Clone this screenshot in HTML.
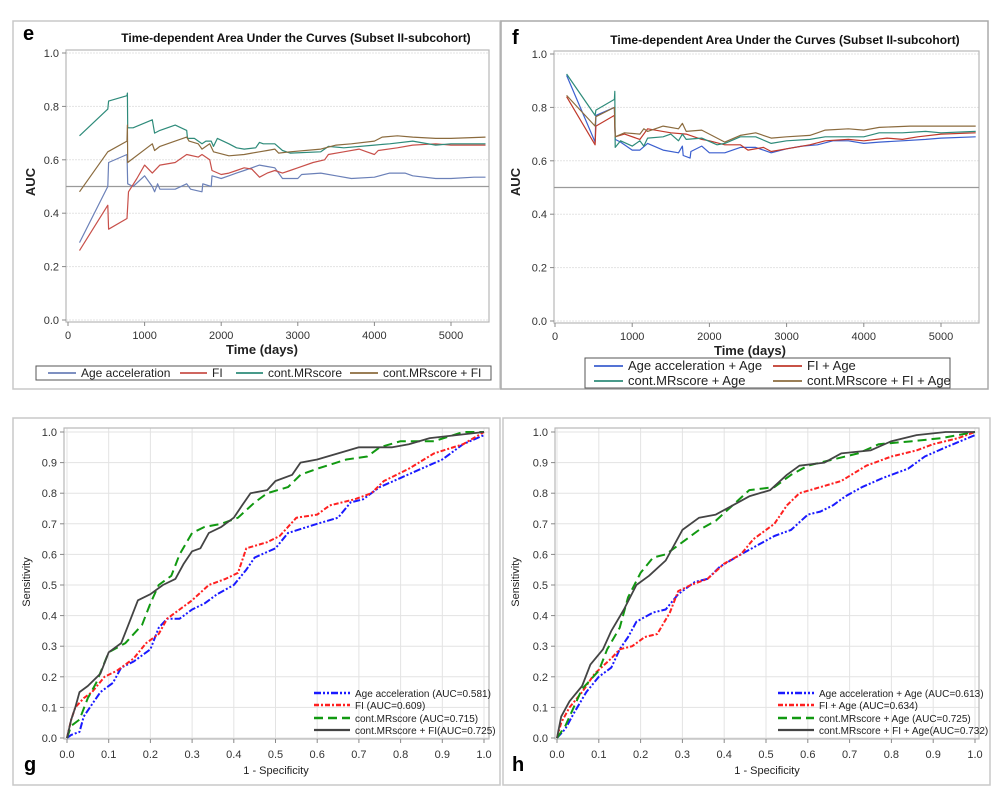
<!DOCTYPE html>
<html><head><meta charset="utf-8">
<style>
html,body{margin:0;padding:0;background:#fff;}
svg{display:block;font-family:"Liberation Sans",Arial,sans-serif;}
</style></head>
<body>
<svg id="fig" width="1000" height="810" viewBox="0 0 1000 810" xmlns="http://www.w3.org/2000/svg"></svg>
<script>
// ---------- Panel e data (days, AUC) ----------
const eAgeAcc=[[150,0.29],[520,0.50],[530,0.59],[770,0.62],[780,0.51],[850,0.50],[1000,0.54],[1100,0.50],[1130,0.48],[1170,0.51],[1200,0.49],[1400,0.49],[1550,0.51],[1600,0.49],[1750,0.48],[1760,0.51],[1870,0.50],[1880,0.54],[2000,0.53],[2100,0.54],[2200,0.55],[2300,0.56],[2400,0.57],[2500,0.58],[2600,0.575],[2700,0.57],[2800,0.53],[2900,0.53],[3000,0.53],[3050,0.545],[3300,0.55],[3500,0.54],[3700,0.53],[4000,0.535],[4200,0.55],[4400,0.55],[4500,0.54],[4800,0.53],[5000,0.53],[5300,0.535],[5450,0.535]];
const eFI=[[150,0.26],[520,0.43],[530,0.34],[770,0.38],[790,0.48],[900,0.53],[1000,0.58],[1100,0.55],[1200,0.58],[1400,0.59],[1550,0.62],[1700,0.61],[1750,0.62],[1850,0.60],[1880,0.56],[2000,0.545],[2100,0.55],[2200,0.56],[2300,0.57],[2400,0.565],[2500,0.535],[2600,0.55],[2700,0.56],[2800,0.55],[2900,0.56],[3000,0.57],[3200,0.59],[3350,0.60],[3400,0.62],[3600,0.63],[3800,0.64],[3900,0.63],[4000,0.62],[4050,0.635],[4300,0.645],[4500,0.655],[4800,0.66],[5000,0.655],[5450,0.655]];
const eMR=[[150,0.69],[520,0.79],[530,0.82],[770,0.84],[775,0.85],[780,0.72],[850,0.72],[1100,0.75],[1130,0.70],[1200,0.71],[1400,0.73],[1550,0.71],[1560,0.68],[1650,0.68],[1750,0.66],[1800,0.67],[1870,0.67],[1900,0.65],[1950,0.68],[2100,0.66],[2200,0.645],[2300,0.64],[2450,0.645],[2500,0.665],[2550,0.66],[2700,0.66],[2800,0.635],[2900,0.625],[3300,0.63],[3400,0.65],[3600,0.645],[4000,0.655],[4200,0.66],[4500,0.67],[4800,0.655],[5000,0.66],[5450,0.66]];
const eMRFI=[[150,0.48],[520,0.63],[770,0.67],[775,0.73],[780,0.59],[1100,0.66],[1130,0.635],[1200,0.65],[1400,0.67],[1550,0.685],[1580,0.67],[1700,0.66],[1750,0.64],[1850,0.66],[1900,0.63],[2100,0.615],[2300,0.62],[2400,0.625],[2500,0.63],[2600,0.635],[2700,0.64],[2750,0.625],[2900,0.63],[3300,0.64],[3500,0.655],[3700,0.66],[4000,0.67],[4100,0.685],[4300,0.69],[4500,0.685],[4800,0.68],[5000,0.68],[5450,0.685]];
// ---------- Panel f data ----------
const fAgeAcc=[[150,0.92],[520,0.67],[530,0.77],[770,0.80],[780,0.68],[850,0.67],[1000,0.64],[1100,0.64],[1200,0.665],[1400,0.64],[1600,0.63],[1650,0.655],[1660,0.62],[1750,0.61],[1760,0.635],[1900,0.655],[2000,0.63],[2200,0.63],[2400,0.65],[2600,0.65],[2700,0.64],[2800,0.63],[3000,0.645],[3200,0.655],[3400,0.66],[3600,0.675],[3800,0.675],[4000,0.665],[4200,0.67],[4500,0.675],[4800,0.68],[5000,0.685],[5450,0.69]];
const fFI=[[150,0.84],[520,0.66],[530,0.73],[770,0.77],[780,0.69],[900,0.70],[1100,0.68],[1200,0.72],[1500,0.705],[1700,0.70],[1900,0.68],[2000,0.675],[2200,0.66],[2400,0.66],[2500,0.64],[2700,0.65],[2800,0.635],[3000,0.645],[3300,0.66],[3500,0.675],[3800,0.68],[4000,0.675],[4300,0.685],[4500,0.68],[4700,0.69],[5000,0.70],[5450,0.705]];
const fMR=[[150,0.925],[520,0.77],[530,0.79],[770,0.83],[775,0.86],[780,0.65],[850,0.675],[1000,0.655],[1100,0.675],[1150,0.655],[1200,0.685],[1400,0.69],[1500,0.70],[1600,0.675],[1650,0.70],[1700,0.68],[1900,0.685],[2100,0.66],[2200,0.665],[2400,0.69],[2600,0.69],[2800,0.665],[3000,0.675],[3300,0.68],[3500,0.69],[3700,0.69],[4000,0.69],[4200,0.705],[4500,0.705],[4800,0.71],[5000,0.705],[5450,0.71]];
const fMRFI=[[150,0.845],[520,0.73],[530,0.765],[770,0.80],[780,0.69],[900,0.705],[1100,0.70],[1150,0.72],[1200,0.71],[1400,0.73],[1600,0.72],[1650,0.74],[1700,0.71],[1900,0.715],[2000,0.70],[2200,0.67],[2400,0.695],[2600,0.705],[2800,0.685],[3000,0.69],[3300,0.695],[3400,0.705],[3500,0.715],[3800,0.72],[4000,0.715],[4200,0.725],[4600,0.73],[4800,0.73],[5000,0.73],[5450,0.73]];
// ---------- Panel g ROC data (1-spec, sens) ----------
const gAgeAcc=[[0,0],[0.01,0.01],[0.03,0.02],[0.04,0.07],[0.06,0.11],[0.08,0.15],[0.11,0.18],[0.13,0.23],[0.16,0.25],[0.2,0.29],[0.22,0.36],[0.24,0.39],[0.27,0.39],[0.3,0.42],[0.33,0.44],[0.36,0.47],[0.4,0.5],[0.43,0.55],[0.45,0.59],[0.5,0.62],[0.53,0.67],[0.6,0.70],[0.65,0.72],[0.68,0.77],[0.71,0.78],[0.75,0.82],[0.8,0.85],[0.85,0.88],[0.9,0.91],[0.95,0.96],[1,0.99]];
const gFI=[[0,0],[0.01,0.06],[0.02,0.1],[0.04,0.13],[0.06,0.15],[0.09,0.2],[0.12,0.22],[0.16,0.26],[0.19,0.31],[0.22,0.34],[0.24,0.39],[0.27,0.42],[0.3,0.45],[0.34,0.5],[0.38,0.52],[0.41,0.54],[0.43,0.62],[0.48,0.64],[0.51,0.66],[0.55,0.72],[0.6,0.73],[0.63,0.76],[0.69,0.78],[0.73,0.8],[0.76,0.84],[0.82,0.88],[0.88,0.93],[0.95,0.96],[1,1]];
const gMR=[[0,0],[0.01,0.04],[0.03,0.06],[0.05,0.13],[0.07,0.18],[0.1,0.28],[0.14,0.31],[0.18,0.37],[0.2,0.44],[0.22,0.5],[0.25,0.53],[0.27,0.6],[0.3,0.67],[0.33,0.69],[0.37,0.7],[0.41,0.72],[0.45,0.77],[0.48,0.8],[0.53,0.82],[0.56,0.86],[0.6,0.88],[0.67,0.91],[0.72,0.92],[0.75,0.95],[0.8,0.97],[0.88,0.97],[0.95,1],[1,1]];
const gMRFI=[[0,0],[0.01,0.06],[0.02,0.1],[0.03,0.15],[0.05,0.17],[0.08,0.21],[0.1,0.28],[0.13,0.31],[0.15,0.38],[0.17,0.45],[0.2,0.47],[0.23,0.5],[0.26,0.52],[0.28,0.57],[0.3,0.61],[0.32,0.62],[0.34,0.67],[0.37,0.69],[0.4,0.72],[0.42,0.76],[0.44,0.8],[0.48,0.81],[0.5,0.84],[0.54,0.86],[0.56,0.9],[0.6,0.91],[0.65,0.93],[0.7,0.95],[0.78,0.95],[0.82,0.96],[0.87,0.98],[1,1]];
// ---------- Panel h ROC data ----------
const hAgeAcc=[[0,0],[0.02,0.03],[0.04,0.08],[0.07,0.15],[0.1,0.2],[0.13,0.23],[0.15,0.29],[0.17,0.33],[0.19,0.38],[0.23,0.41],[0.26,0.42],[0.29,0.47],[0.33,0.51],[0.36,0.52],[0.39,0.56],[0.44,0.6],[0.48,0.63],[0.52,0.66],[0.56,0.68],[0.6,0.73],[0.63,0.74],[0.66,0.76],[0.69,0.79],[0.73,0.82],[0.78,0.85],[0.84,0.88],[0.88,0.92],[0.93,0.95],[1,0.99]];
const hFI=[[0,0],[0.01,0.05],[0.03,0.1],[0.06,0.15],[0.09,0.21],[0.13,0.26],[0.15,0.29],[0.18,0.3],[0.21,0.33],[0.24,0.34],[0.27,0.41],[0.29,0.48],[0.32,0.5],[0.36,0.52],[0.4,0.57],[0.44,0.6],[0.47,0.65],[0.52,0.7],[0.55,0.76],[0.58,0.8],[0.63,0.82],[0.68,0.84],[0.74,0.89],[0.8,0.92],[0.86,0.94],[0.9,0.96],[0.96,0.98],[1,1]];
const hMR=[[0,0],[0.02,0.04],[0.04,0.1],[0.06,0.16],[0.1,0.22],[0.12,0.29],[0.15,0.36],[0.17,0.46],[0.2,0.54],[0.23,0.59],[0.26,0.6],[0.3,0.64],[0.34,0.68],[0.38,0.71],[0.42,0.76],[0.46,0.81],[0.52,0.82],[0.56,0.86],[0.6,0.89],[0.66,0.91],[0.72,0.93],[0.77,0.96],[0.85,0.97],[0.92,0.98],[1,1]];
const hMRFI=[[0,0],[0.01,0.07],[0.03,0.12],[0.06,0.17],[0.08,0.24],[0.11,0.29],[0.13,0.35],[0.16,0.42],[0.19,0.5],[0.22,0.53],[0.26,0.58],[0.3,0.68],[0.34,0.72],[0.38,0.73],[0.42,0.76],[0.46,0.79],[0.51,0.81],[0.55,0.86],[0.58,0.89],[0.64,0.9],[0.68,0.93],[0.75,0.94],[0.8,0.97],[0.86,0.99],[0.93,1],[1,1]];
const aucTicksY=[0,0.2,0.4,0.6,0.8,1.0];
const dayTicks=[0,1000,2000,3000,4000,5000];
const rocTicks=[0,0.1,0.2,0.3,0.4,0.5,0.6,0.7,0.8,0.9,1.0];

const NS="http://www.w3.org/2000/svg";
const svg=document.getElementById('fig');
function el(tag,attrs,parent,text){const e=document.createElementNS(NS,tag);for(const k in attrs)e.setAttribute(k,attrs[k]);if(text!==undefined)e.textContent=text;(parent||svg).appendChild(e);return e;}

function panel(cfg){
  const g=el('g',{});
  
  
  const fr=el('rect',{x:cfg.frame[0],y:cfg.frame[1],width:cfg.frame[2],height:cfg.frame[3],fill:'#fff',stroke:cfg.frameColor||'#c8c8c8','stroke-width':cfg.frameW||1.5},g);
  
  
  const sx=v=>cfg.x0+(v-cfg.xmin)/(cfg.xmax-cfg.xmin)*(cfg.x1-cfg.x0);
  const sy=v=>cfg.y0+(v-cfg.ymin)/(cfg.ymax-cfg.ymin)*(cfg.y1-cfg.y0);
  const pa=cfg.plot;
  cfg.yt.forEach(t=>{const l=el('line',{x1:pa[0],x2:pa[0]+pa[2],y1:sy(t),y2:sy(t),stroke:'#e3e3e3','stroke-width':1,'stroke-dasharray':cfg.roc?'':'2,1'},g);
    
    });
  if(cfg.roc) cfg.xt.forEach(t=>{const l=el('line',{y1:pa[1],y2:pa[1]+pa[3],x1:sx(t),x2:sx(t),stroke:'#e3e3e3','stroke-width':1},g);
    
    });
  const pr=el('rect',{x:pa[0],y:pa[1],width:pa[2],height:pa[3],fill:'none',stroke:'#b8b8b8','stroke-width':1.2},g);
  
  
  if(cfg.ref!==undefined){const r=el('line',{x1:pa[0],x2:pa[0]+pa[2],y1:sy(cfg.ref),y2:sy(cfg.ref),stroke:'#9a9a9a','stroke-width':1.2},g);
    
    }
  cfg.yt.forEach(t=>{const y=sy(t);el('line',{x1:pa[0]-4,x2:pa[0],y1:y,y2:y,stroke:'#888'},g);
    const tx=el('text',{x:pa[0]-7,y:y+4,'text-anchor':'end','font-size':11,fill:'#333'},g,t.toFixed(1));
    
    });
  cfg.xt.forEach(t=>{const x=sx(t);const yb=pa[1]+pa[3];el('line',{x1:x,x2:x,y1:yb,y2:yb+4,stroke:'#888'},g);
    const tx=el('text',{x:x,y:yb+(cfg.roc?19:17),'text-anchor':'middle','font-size':11,fill:'#333'},g,cfg.roc?t.toFixed(1):String(t));
    
    });
  cfg.series.forEach(s=>{
    const d=s.data.map((p,i)=>(i?'L':'M')+sx(p[0]).toFixed(1)+','+sy(p[1]).toFixed(1)).join(' ');
    const p=el('path',{d:d,fill:'none',stroke:s.color,'stroke-width':s.w,'stroke-dasharray':s.dash||'','stroke-linejoin':'round'},g);
    
    
  });
  const xt=el('text',{x:cfg.xlab[0],y:cfg.xlab[1],'text-anchor':'middle','font-size':cfg.roc?11:13,'font-weight':cfg.roc?'normal':'bold',fill:'#222'},g,cfg.xlab[2]);
  
  
  const yt=el('text',{x:0,y:0,transform:`translate(${cfg.ylab[0]},${cfg.ylab[1]}) rotate(-90)`,'text-anchor':'middle','font-size':cfg.roc?11:13,'font-weight':cfg.roc?'normal':'bold',fill:'#222'},g,cfg.ylab[2]);
  
  
  const lb=el('text',{x:cfg.letter[0],y:cfg.letter[1],'font-size':20,'font-weight':'bold',fill:'#000'},g,cfg.letter[2]);
  
  
  if(cfg.title){const t=el('text',{x:cfg.title[0],y:cfg.title[1],'text-anchor':'middle','font-size':12,'font-weight':'bold',fill:'#111'},g,cfg.title[2]);
    
    }
  const lg=el('g',{},g);
  
  
  if(cfg.legBox) el('rect',{x:cfg.legBox[0],y:cfg.legBox[1],width:cfg.legBox[2],height:cfg.legBox[3],fill:'#fff',stroke:'#555','stroke-width':1},lg);
  cfg.series.forEach((s,i)=>{
    const L=cfg.leg[i];
    const e=el('g',{},lg);
    
    
    el('line',{x1:L[0],x2:L[0]+L[2],y1:L[1],y2:L[1],stroke:s.color,'stroke-width':s.w+0.5,'stroke-dasharray':s.dash||''},e);
    el('text',{x:L[0]+L[2]+5,y:L[1]+4,'font-size':cfg.legFont,fill:'#222'},e,s.label);
  });
}

panel({name:'panel-e-time-auc',frame:[13,21,487,368],plot:[66,50,423,272],x0:68,x1:451,xmin:0,xmax:5000,y0:320,y1:53,ymin:0,ymax:1,
  xt:dayTicks,yt:aucTicksY,ref:0.5,xlab:[262,354,'Time (days)'],ylab:[35,182,'AUC'],letter:[23,40,'e'],title:[296,42,'Time-dependent Area Under the Curves (Subset II-subcohort)'],
  legBox:[36,366,455,14],legFont:12,
  leg:[[48,373,28],[180,373,27],[236,373,27],[350,373,28]],
  series:[{id:'line-age-acceleration',data:eAgeAcc,color:'#6b80b8',w:1.2,label:'Age acceleration'},
    {id:'line-fi',data:eFI,color:'#c8504a',w:1.2,label:'FI'},
    {id:'line-cont-mrscore',data:eMR,color:'#2e8b7a',w:1.2,label:'cont.MRscore'},
    {id:'line-cont-mrscore-fi',data:eMRFI,color:'#8b6b3e',w:1.2,label:'cont.MRscore + FI'}]});

panel({name:'panel-f-time-auc',frame:[501,21,487,368],plot:[554,51,425,272],x0:555,x1:941,xmin:0,xmax:5000,y0:321,y1:54,ymin:0,ymax:1,
  xt:dayTicks,yt:aucTicksY,ref:0.5,xlab:[750,355,'Time (days)'],ylab:[520,182,'AUC'],letter:[512,44,'f'],title:[785,44,'Time-dependent Area Under the Curves (Subset II-subcohort)'],
  legBox:[585,358,365,30],legFont:13,frameColor:'#aaa',
  leg:[[594,366,29],[773,366,29],[594,381,29],[773,381,29]],
  series:[{id:'line-age-acceleration-age',data:fAgeAcc,color:'#3b5fcf',w:1.2,label:'Age acceleration + Age'},
    {id:'line-fi-age',data:fFI,color:'#c0392b',w:1.2,label:'FI + Age'},
    {id:'line-cont-mrscore-age',data:fMR,color:'#2e8b7a',w:1.2,label:'cont.MRscore + Age'},
    {id:'line-cont-mrscore-fi-age',data:fMRFI,color:'#8b6b3e',w:1.2,label:'cont.MRscore + FI + Age'}]});

const dashA='7,2,2,2,2,2', dashF='5,2,2,2', dashM='9,5';
panel({name:'panel-g-roc',frame:[13,418,487,367],plot:[64,428,425,311],x0:67,x1:484,xmin:0,xmax:1,y0:738,y1:432,ymin:0,ymax:1,roc:true,
  xt:rocTicks,yt:rocTicks,xlab:[276,774,'1 - Specificity'],ylab:[30,582,'Sensitivity'],letter:[24,771,'g'],
  legFont:10,leg:[[314,693,36],[314,705,36],[314,718,36],[314,730,36]],
  series:[{id:'roc-age-acceleration',data:gAgeAcc,color:'#1a1aff',w:2,dash:dashA,label:'Age acceleration (AUC=0.581)'},
    {id:'roc-fi',data:gFI,color:'#ff2020',w:2,dash:dashF,label:'FI (AUC=0.609)'},
    {id:'roc-cont-mrscore',data:gMR,color:'#119911',w:2,dash:dashM,label:'cont.MRscore (AUC=0.715)'},
    {id:'roc-cont-mrscore-fi',data:gMRFI,color:'#444',w:1.8,label:'cont.MRscore + FI(AUC=0.725)'}]});

panel({name:'panel-h-roc',frame:[503,418,487,367],plot:[555,428,424,311],x0:557,x1:975,xmin:0,xmax:1,y0:738,y1:432,ymin:0,ymax:1,roc:true,
  xt:rocTicks,yt:rocTicks,xlab:[767,774,'1 - Specificity'],ylab:[519,582,'Sensitivity'],letter:[512,771,'h'],
  legFont:10,leg:[[778,693,36],[778,705,36],[778,718,36],[778,730,36]],
  series:[{id:'roc-age-acceleration-age',data:hAgeAcc,color:'#1a1aff',w:2,dash:dashA,label:'Age acceleration + Age (AUC=0.613)'},
    {id:'roc-fi-age',data:hFI,color:'#ff2020',w:2,dash:dashF,label:'FI + Age (AUC=0.634)'},
    {id:'roc-cont-mrscore-age',data:hMR,color:'#119911',w:2,dash:dashM,label:'cont.MRscore + Age (AUC=0.725)'},
    {id:'roc-cont-mrscore-fi-age',data:hMRFI,color:'#444',w:1.8,label:'cont.MRscore + FI + Age(AUC=0.732)'}]});
</script>
</body></html>
